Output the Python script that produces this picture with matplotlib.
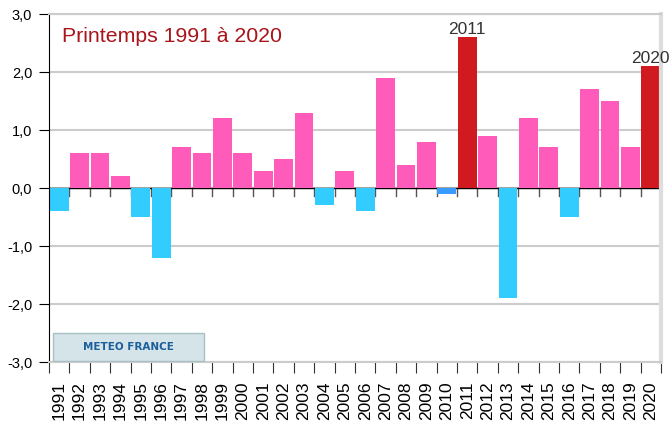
import matplotlib.pyplot as plt
from matplotlib.patches import Rectangle
import numpy as np

plt.rcParams['font.family'] = ['Liberation Sans', 'DejaVu Sans']

years = [str(y) for y in range(1991, 2021)]
values = [-0.4, 0.6, 0.6, 0.2, -0.5, -1.2, 0.7, 0.6, 1.2, 0.6,
          0.3, 0.5, 1.3, -0.3, 0.3, -0.4, 1.9, 0.4, 0.8, -0.1,
          2.6, 0.9, -1.9, 1.2, 0.7, -0.5, 1.7, 1.5, 0.7, 2.1]
highlight = ['2011', '2020']
yticks = [-3, -2, -1, 0, 1, 2, 3]

pink = '#ff5bbb'
blue = '#33ccff'
red = '#d11a1f'
small_blue = '#3a9bff'

colors = []
for y, v in zip(years, values):
	if y in highlight:
		colors.append(red)
	elif v >= 0:
		colors.append(pink)
	elif v > -0.2:
		colors.append(small_blue)
	else:
		colors.append(blue)

fig = plt.figure(figsize=(6.72, 4.23), dpi=100)
ax = fig.add_axes([49/672, 1-362/423, 612/672, 348/423])

x = np.arange(len(years))

# grid
for t in yticks:
	ax.axhline(t, color='#cccccc', lw=1.5, zorder=0)

# little ticks on the zero line
for b in np.arange(len(years)+1) - 0.5:
	ax.plot([b, b], [0, -0.14], color='#555555', lw=1, zorder=1)
ax.axhline(0, color='black', lw=1, zorder=1)

ax.bar(x, values, width=0.93, color=colors, zorder=2)

for i, y in enumerate(years):
	if y in highlight:
		ax.text(i, values[i] + 0.0, y, ha='center', va='bottom', fontsize=12.5, color='#333333', zorder=3)

ax.text(0.022, 0.935, 'Printemps 1991 à 2020', transform=ax.transAxes, fontsize=15.3,
	color='#a8141a', ha='left', va='center')

# logo box
ax.add_patch(Rectangle((0.0065, 0.003), 0.2465, 0.08, transform=ax.transAxes,
	facecolor='#d4e4e8', edgecolor='#a8c0c4', lw=1, zorder=3))
ax.text(0.13, 0.043, 'METEO FRANCE', transform=ax.transAxes, fontsize=7.5, fontweight='bold',
	family='DejaVu Sans', color='#1b5e9b', ha='center', va='center', zorder=4)

ax.set_xlim(-0.5, len(years) - 0.5)
ax.set_ylim(-3, 3)
ax.set_yticks(yticks)
ax.set_yticklabels([('%.1f' % t).replace('.', ',') for t in yticks], fontsize=10.5)

ax.set_xticks(np.arange(len(years)+1) - 0.5)
ax.set_xticklabels([])
ax.set_xticks(x, minor=True)
ax.set_xticklabels(years, minor=True, rotation=90, fontsize=12.5)
ax.tick_params(axis='x', which='major', length=8, color='#333333')
ax.tick_params(axis='x', which='minor', length=0, pad=14)
ax.tick_params(axis='y', length=7, color='black', pad=5)

ax.spines['left'].set_color('black')
ax.spines['bottom'].set_color('#cccccc')
ax.spines['bottom'].set_linewidth(1.5)
ax.spines['top'].set_color('#cccccc')
ax.spines['top'].set_linewidth(1.5)
ax.spines['right'].set_color('#dddddd')
ax.spines['right'].set_linewidth(3)

plt.savefig('out.png', dpi=100)
